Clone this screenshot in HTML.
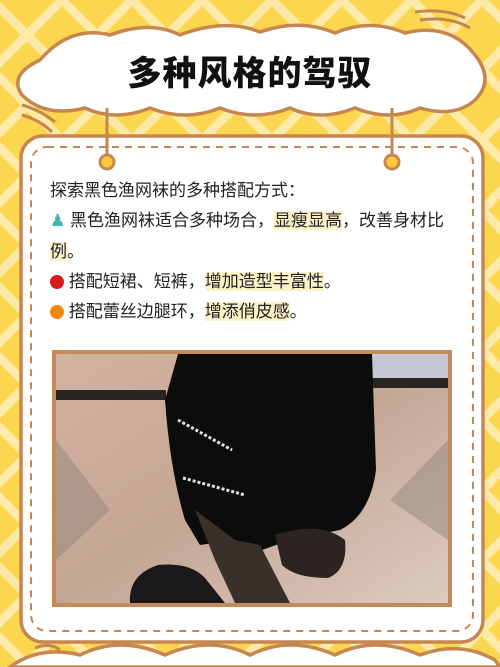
<!DOCTYPE html>
<html><head><meta charset="utf-8"><style>
html,body{margin:0;padding:0;width:500px;height:667px;overflow:hidden;background:#fcd64f;font-family:"Liberation Sans","Noto Sans CJK SC",sans-serif}
.txt{position:absolute;left:50px;font-size:17px;color:#222;line-height:20px;white-space:nowrap}
.hl{background:#fdf1c8}
</style></head><body>
<svg width="500" height="667" style="position:absolute;left:0;top:0">
<defs><pattern id="lat" width="70" height="70" patternUnits="userSpaceOnUse" patternTransform="translate(-8,0)">
<path d="M0,0 L70,70 M70,0 L0,70" stroke="#fde9a8" stroke-width="9"/></pattern></defs>
<rect width="500" height="667" fill="#fcd64f"/>
<rect width="500" height="667" fill="url(#lat)"/>
<g>
<path d="M40,60 Q70,25 110,35 Q150,20 180,35 Q225,18 260,32 Q300,18 335,33 Q370,18 405,33 Q450,22 475,55 Q495,80 475,100 Q455,118 420,108 Q390,122 355,108 Q320,122 290,108 Q255,122 220,108 Q185,122 150,108 Q115,122 85,108 Q45,118 22,95 Q8,75 40,60 Z" fill="#fff" stroke="#c68650" stroke-width="3.5"/>
</g>
<path d="M415,12 Q445,8 465,18 M420,20 Q450,16 470,28" stroke="#c68650" stroke-width="3" fill="none"/>
<path d="M22,105 Q40,110 55,122 M22,115 Q40,120 52,132" stroke="#c68650" stroke-width="3" fill="none"/>
<rect x="21" y="136" width="462" height="506" rx="22" fill="#fff" stroke="#c68650" stroke-width="3.5"/>
<rect x="31" y="147" width="442" height="484" rx="16" fill="none" stroke="#c68650" stroke-width="2" stroke-dasharray="7,6"/>
<line x1="107" y1="108" x2="107" y2="160" stroke="#c68650" stroke-width="3"/>
<line x1="392" y1="108" x2="392" y2="160" stroke="#c68650" stroke-width="3"/>
<circle cx="107" cy="162" r="7" fill="#fcc93a" stroke="#c68650" stroke-width="3"/>
<circle cx="392" cy="162" r="7" fill="#fcc93a" stroke="#c68650" stroke-width="3"/>
<g>
<rect x="52" y="350" width="400" height="257" fill="#c48a5a"/>
<defs><linearGradient id="floor" x1="0" y1="0" x2="1" y2="1"><stop offset="0" stop-color="#d2b2a0"/><stop offset="0.5" stop-color="#c4a694"/><stop offset="1" stop-color="#ddcbc0"/></linearGradient></defs>
<rect x="56" y="354" width="392" height="249" fill="url(#floor)"/>
<rect x="56" y="390" width="110" height="10" fill="#2a2522"/>
<rect x="372" y="378" width="76" height="10" fill="#2a2522"/>
<rect x="372" y="354" width="76" height="24" fill="#c5c6d6"/>
<path d="M56,440 L110,510 L56,560 Z" fill="#8f8178" opacity="0.45"/>
<path d="M448,440 L390,500 L448,540 Z" fill="#8f8178" opacity="0.45"/>
<path d="M178,354 L372,354 L376,470 Q370,515 340,530 L290,540 L262,550 L235,540 L200,545 L185,520 Q170,470 165,400 Z" fill="#0d0c0c"/>
<path d="M195,510 L235,540 L260,545 L290,603 L235,603 L215,560 Z" fill="#3a302b"/>
<path d="M275,535 Q320,520 345,540 Q348,570 328,578 Q295,578 282,565 Z" fill="#2b2420"/>
<path d="M130,603 Q128,575 158,565 Q190,562 205,578 L225,603 Z" fill="#1a1818"/>
<path d="M178,420 L232,450 M183,478 L245,495" stroke="#e8e2dc" stroke-width="3" stroke-dasharray="3,2"/>
</g>
<path d="M10,667 Q40,645 80,655 Q120,635 165,655 Q210,635 250,655 Q290,635 335,655 Q375,635 420,655 Q460,640 495,660 L500,667 Z" fill="#fff" stroke="#c68650" stroke-width="3.5"/>
<path d="M35,648 Q50,642 60,650" stroke="#c68650" stroke-width="3" fill="none"/>
</svg>
<div style="position:absolute;left:0;top:46px;width:500px;text-align:center;font-size:34px;font-weight:900;color:#111;letter-spacing:1px;font-family:'Noto Sans CJK SC',sans-serif">多种风格的驾驭</div>
<div class="txt" style="top:181px">探索黑色渔网袜的多种搭配方式：</div>
<div class="txt" style="top:211px"><span style="color:#3bb8b0">♟</span> 黑色渔网袜适合多种场合，<span class="hl">显瘦显高</span>，改善身材比</div>
<div class="txt" style="top:242px"><span class="hl">例</span>。</div>
<div class="txt" style="top:272px"><span style="display:inline-block;width:14px;height:14px;border-radius:50%;background:#d81b1b;vertical-align:-2px"></span> 搭配短裙、短裤，<span class="hl">增加造型丰富性</span>。</div>
<div class="txt" style="top:302px"><span style="display:inline-block;width:14px;height:14px;border-radius:50%;background:#f0890f;vertical-align:-2px"></span> 搭配蕾丝边腿环，<span class="hl">增添俏皮感</span>。</div>
</body></html>
